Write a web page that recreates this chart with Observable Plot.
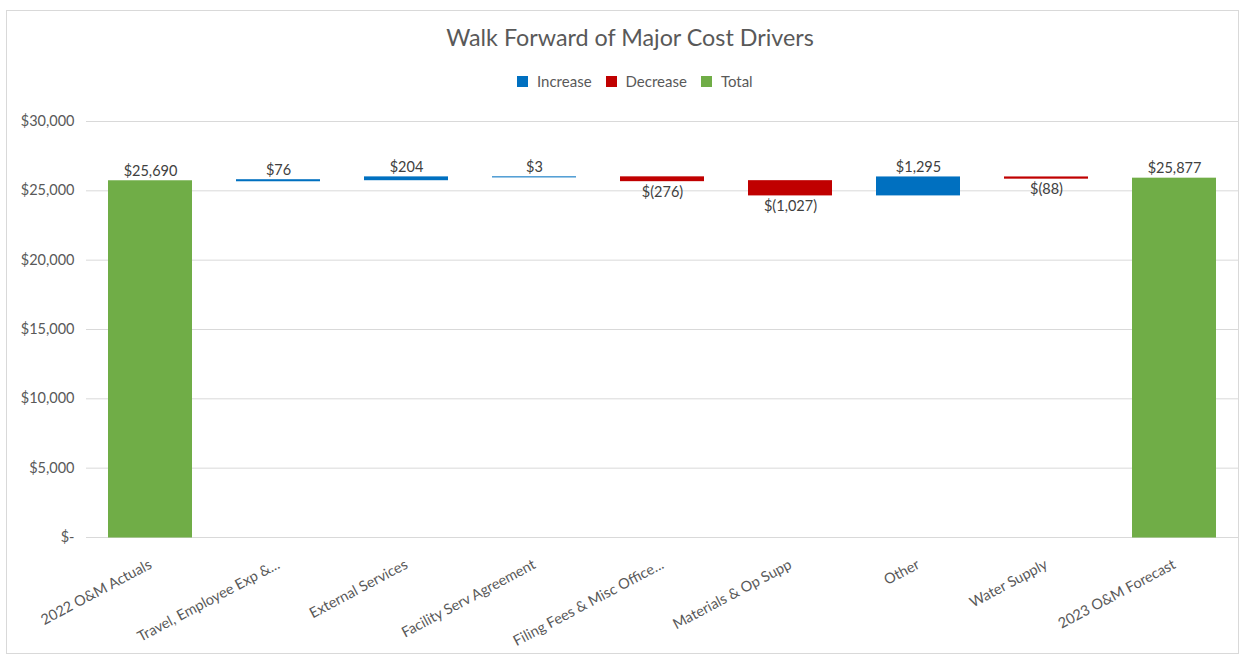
<!DOCTYPE html>
<html>
<head>
<meta charset="utf-8">
<script src="https://cdn.jsdelivr.net/npm/d3@7"></script>
<script src="https://cdn.jsdelivr.net/npm/@observablehq/plot@0.6"></script>
<style>
  body { margin: 0; background: #fff; font-family: Lato, "Open Sans", sans-serif; }
  #frame { position: absolute; left: 6px; top: 10px; width: 1231px; height: 642px; border: 1px solid #d9d9d9; }
  #title { position: absolute; left: 0; width: 1260px; top: 23px; text-align: center; font-size: 23.3px; color: #595959; }
  #legend { position: absolute; left: 517px; top: 72px; display: flex; gap: 14px; font-size: 15px; color: #595959; line-height: 18px; }
  #legend span.item { display: inline-flex; align-items: center; }
  #legend span.sw { display: inline-block; width: 11px; height: 11px; margin-right: 9px; }
  #chart { position: absolute; left: 0; top: 100px; }
</style>
</head>
<body>
<div id="frame"></div>
<div id="title">Walk Forward of Major Cost Drivers</div>
<div id="legend"></div>
<div id="chart"></div>
<script>
const categories = ["2022 O&M Actuals", "Travel, Employee Exp &...", "External Services", "Facility Serv Agreement", "Filing Fees & Misc Office...", "Materials & Op Supp", "Other", "Water Supply", "2023 O&M Forecast"];
const values = [25690, 76, 204, 3, -276, -1027, 1295, -88, 25877];
const kinds = ["Total", "Increase", "Increase", "Increase", "Decrease", "Decrease", "Increase", "Decrease", "Total"];
const legendItems = ["Increase", "Decrease", "Total"];
const legendColors = ["#0070C0", "#C00000", "#70AD47"];
const yTicks = [0, 5000, 10000, 15000, 20000, 25000, 30000];

const fmt = d3.format(",");
const labelOf = v => v < 0 ? "$(" + fmt(-v) + ")" : "$" + fmt(v);

let run = 0;
const rows = categories.map((c, i) => {
  let start, end;
  if (kinds[i] === "Total") { start = 0; end = values[i]; run = values[i]; }
  else { start = run; end = run + values[i]; run = end; }
  return { category: c, kind: kinds[i], value: values[i], lo: Math.min(start, end), hi: Math.max(start, end), label: labelOf(values[i]) };
});

const legend = document.getElementById("legend");
legendItems.forEach((k, i) => {
  const s = document.createElement("span");
  s.className = "item";
  s.innerHTML = `<span class="sw" style="background:${legendColors[i]}"></span>${k}`;
  legend.appendChild(s);
});

const chart = Plot.plot({
  width: 1244,
  height: 562,
  marginLeft: 86,
  marginRight: 6,
  marginTop: 21,
  marginBottom: 125,
  style: { fontFamily: "Lato, 'Open Sans', sans-serif", fontSize: "14px", color: "#595959", background: "transparent" },
  x: { domain: categories, paddingInner: 0.34, paddingOuter: 0.17, axis: null },
  y: { domain: [0, 30000] },
  color: { domain: legendItems, range: legendColors },
  marks: [
    Plot.gridY(yTicks, { stroke: "#d9d9d9", strokeOpacity: 1 }),
    Plot.axisY(yTicks, { tickSize: 0, tickPadding: 12, fontSize: 14.5, tickFormat: v => v === 0 ? "$-" : "$" + fmt(v) }),
    Plot.barY(rows, { x: "category", y1: "lo", y2: "hi", fill: "kind", insetTop: -0.5, insetBottom: -0.5 }),
    Plot.text(rows.filter(d => d.kind !== "Decrease"), { x: "category", y: "hi", text: "label", dy: -10, fontSize: 14.5, fill: "#404040" }),
    Plot.text(rows.filter(d => d.kind === "Decrease"), { x: "category", y: "lo", text: "label", dy: 11, fontSize: 14.5, fill: "#404040" }),
    Plot.text(categories, { x: d => d, y: () => 0, text: d => d, rotate: -28, textAnchor: "end", lineAnchor: "middle", dx: 0, dy: 26, fontSize: 14.5, fill: "#595959" })
  ]
});
document.getElementById("chart").appendChild(chart);
</script>
</body>
</html>
